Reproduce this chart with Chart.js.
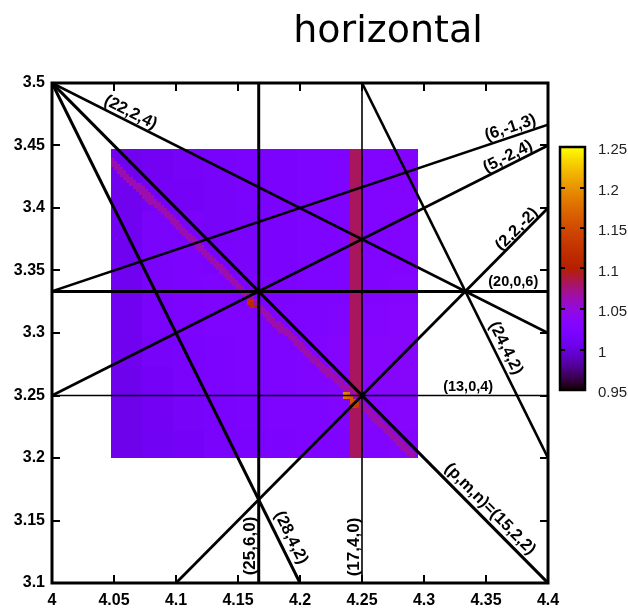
<!DOCTYPE html>
<html>
<head>
<meta charset="utf-8">
<script src="https://cdn.jsdelivr.net/npm/chart.js@4"></script>
<style>
  html, body { margin: 0; padding: 0; background: #fff; }
</style>
</head>
<body>
<canvas id="c" width="628" height="611"></canvas>
<script>
// axis ticks
const xTicks = [4, 4.05, 4.1, 4.15, 4.2, 4.25, 4.3, 4.35, 4.4];
const yTicks = [3.1, 3.15, 3.2, 3.25, 3.3, 3.35, 3.4, 3.45, 3.5];
const cbTicks = [0.95, 1, 1.05, 1.1, 1.15, 1.2, 1.25];

// resonance lines (start / end points) and their labels
const lineLabels = ['(25,6,0)', '(17,4,0)', '(20,0,6)', '(13,0,4)', '(p,m,n)=(15,2,2)', '(22,2,4)',
                    '(28,4,2)', '(6,-1,3)', '(5,-2,4)', '(2,2,-2)', '(24,4,2)'];
const lineX1 = [4.1667, 4.25, 4, 4, 4, 4, 4, 4, 4, 4.1, 4.25];
const lineY1 = [3.1, 3.1, 3.3333, 3.25, 3.5, 3.5, 3.5, 3.3333, 3.25, 3.1, 3.5];
const lineX2 = [4.1667, 4.25, 4.4, 4.4, 4.4, 4.4, 4.2, 4.4, 4.4, 4.4, 4.4];
const lineY2 = [3.5, 3.5, 3.3333, 3.25, 3.1, 3.3, 3.1, 3.4667, 3.45, 3.4, 3.2];

// heat map: coarse background (rows top -> bottom)
const heatBase = [
  [1.008, 1.011, 1.014, 1.016, 1.018, 1.020, 1.022, 1.024, 1.026, 1.028],
  [1.008, 1.013, 1.013, 1.015, 1.018, 1.020, 1.022, 1.024, 1.026, 1.028],
  [1.009, 1.017, 1.017, 1.015, 1.017, 1.020, 1.022, 1.024, 1.026, 1.028],
  [1.009, 1.017, 1.021, 1.019, 1.017, 1.020, 1.022, 1.024, 1.026, 1.028],
  [1.009, 1.017, 1.021, 1.023, 1.021, 1.021, 1.023, 1.025, 1.027, 1.029],
  [1.009, 1.017, 1.021, 1.023, 1.023, 1.023, 1.025, 1.027, 1.029, 1.031],
  [1.008, 1.015, 1.019, 1.021, 1.023, 1.025, 1.027, 1.029, 1.031, 1.033],
  [1.007, 1.013, 1.017, 1.021, 1.023, 1.025, 1.027, 1.029, 1.031, 1.033],
  [1.006, 1.011, 1.015, 1.019, 1.021, 1.023, 1.025, 1.027, 1.029, 1.031],
  [1.006, 1.010, 1.013, 1.017, 1.019, 1.021, 1.023, 1.025, 1.027, 1.029]
];
// diagonal ridge (polyline) and its value
const ridgeX = [4.048, 4.157, 4.25, 4.292];
const ridgeY = [3.438, 3.330, 3.243, 3.200];
const ridgeVal = 1.064;
// vertical stripe
const stripeX = [4.24, 4.25];
const stripeVal = 1.082;
// hot cells where ridges cross
const hotX = [4.1588, 4.1613, 4.1588, 4.1613, 4.1638, 4.1613,
              4.2363, 4.2388, 4.2363, 4.2388, 4.2413, 4.2413, 4.2438, 4.2413, 4.2438, 4.2463, 4.2438, 4.2463, 4.2413];
const hotY = [3.3263, 3.3263, 3.3238, 3.3238, 3.3213, 3.3213,
              3.2513, 3.2513, 3.2488, 3.2488, 3.2488, 3.2463, 3.2463, 3.2438, 3.2438, 3.2438, 3.2413, 3.2413, 3.2413];
const hotVal = [1.12, 1.12, 1.12, 1.11, 1.10, 1.11,
                1.19, 1.18, 1.18, 1.17, 1.16, 1.16, 1.15, 1.15, 1.15, 1.14, 1.14, 1.13, 1.14];

// heat grid geometry
const grid = { x0: 4.0475, y0: 3.2, step: 0.0025, nx: 99, ny: 99 };
const cbMin = 0.95, cbMax = 1.25;

// label placement: fraction along line, offset (px), font size
const labelT   = [0.074, 0.072, 0.93, 0.839, 0.8675, 0.15, 0.92, 0.93, 0.9265, 0.93, 0.72];
const labelOff = [8, 8, 9, 9, 11, 9, 12, 9, 8, 7, 11];
const labelSize = [17, 17, 14.5, 14.5, 16.5, 16.5, 16.5, 16.5, 16.5, 16.5, 16.5];
const lineWidths = [3, 1.6, 3, 1.6, 3, 2.6, 3, 2.6, 2.8, 2.8, 2.6];

// gnuplot default palette (rgbformulae 7,5,15)
function palette(v) {
  let t = (v - cbMin) / (cbMax - cbMin);
  t = Math.max(0, Math.min(1, t));
  const r = Math.sqrt(t);
  const g = t * t * t;
  const b = Math.max(0, Math.sin(2 * Math.PI * t));
  return `rgb(${Math.round(r * 255)},${Math.round(g * 255)},${Math.round(b * 255)})`;
}

function ridgeYAt(x) {
  for (let k = 0; k < ridgeX.length - 1; k++) {
    if (x >= ridgeX[k] && x <= ridgeX[k + 1]) {
      const f = (x - ridgeX[k]) / (ridgeX[k + 1] - ridgeX[k]);
      return ridgeY[k] + f * (ridgeY[k + 1] - ridgeY[k]);
    }
  }
  return null;
}

function cellValue(i, j) {
  const cx = grid.x0 + (i + 0.5) * grid.step;
  const cy = grid.y0 + (j + 0.5) * grid.step;
  const col = Math.min(9, Math.floor(i / grid.nx * 10));
  const row = Math.min(9, Math.floor((grid.ny - 1 - j) / grid.ny * 10));
  let v = heatBase[row][col];
  if (cx > stripeX[0] && cx < stripeX[1]) v = stripeVal;
  const ry = ridgeYAt(cx);
  if (ry !== null && Math.abs(cy - ry) <= 0.0038) v = ridgeVal;
  for (let k = 0; k < hotX.length; k++) {
    if (Math.abs(hotX[k] - cx) < grid.step / 2 && Math.abs(hotY[k] - cy) < grid.step / 2) v = hotVal[k];
  }
  return v;
}

const heatPlugin = {
  id: 'heat',
  beforeDatasetsDraw(chart) {
    const ctx = chart.ctx, xs = chart.scales.x, ys = chart.scales.y;
    ctx.save();
    for (let i = 0; i < grid.nx; i++) {
      const xa = Math.round(xs.getPixelForValue(grid.x0 + i * grid.step));
      const xb = Math.round(xs.getPixelForValue(grid.x0 + (i + 1) * grid.step));
      for (let j = 0; j < grid.ny; j++) {
        const ya = Math.round(ys.getPixelForValue(grid.y0 + (j + 1) * grid.step));
        const yb = Math.round(ys.getPixelForValue(grid.y0 + j * grid.step));
        ctx.fillStyle = palette(cellValue(i, j));
        ctx.fillRect(xa, ya, xb - xa, yb - ya);
      }
    }
    ctx.restore();
  }
};

const framePlugin = {
  id: 'frame',
  afterDatasetsDraw(chart) {
    const ctx = chart.ctx, a = chart.chartArea, xs = chart.scales.x, ys = chart.scales.y;
    ctx.save();
    ctx.strokeStyle = '#000';
    ctx.lineWidth = 2;
    ctx.beginPath();
    xTicks.slice(1, -1).forEach(v => {
      const p = Math.round(xs.getPixelForValue(v));
      ctx.moveTo(p, a.bottom); ctx.lineTo(p, a.bottom - 8);
      ctx.moveTo(p, a.top); ctx.lineTo(p, a.top + 8);
    });
    yTicks.slice(1, -1).forEach(v => {
      const p = Math.round(ys.getPixelForValue(v));
      ctx.moveTo(a.left, p); ctx.lineTo(a.left + 8, p);
      ctx.moveTo(a.right, p); ctx.lineTo(a.right - 8, p);
    });
    ctx.stroke();
    ctx.lineWidth = 3;
    ctx.strokeRect(a.left, a.top, a.right - a.left, a.bottom - a.top);

    // line labels
    ctx.fillStyle = '#000';
    ctx.textAlign = 'center';
    ctx.textBaseline = 'middle';
    lineLabels.forEach((txt, i) => {
      const x1 = xs.getPixelForValue(lineX1[i]), y1 = ys.getPixelForValue(lineY1[i]);
      const x2 = xs.getPixelForValue(lineX2[i]), y2 = ys.getPixelForValue(lineY2[i]);
      let ang = Math.atan2(y2 - y1, x2 - x1);
      if (ang > Math.PI / 2 + 0.01) ang -= Math.PI;
      if (ang < -Math.PI / 2 - 0.01) ang += Math.PI;
      const px = x1 + labelT[i] * (x2 - x1) + Math.sin(ang) * labelOff[i];
      const py = y1 + labelT[i] * (y2 - y1) - Math.cos(ang) * labelOff[i];
      ctx.save();
      ctx.translate(px, py);
      ctx.rotate(ang);
      ctx.font = `bold ${labelSize[i]}px "Liberation Sans", Arial, sans-serif`;
      ctx.fillText(txt, 0, 0);
      ctx.restore();
    });

    // colour bar
    const cb = { left: 560, right: 585, top: 147, bottom: 390 };
    const cbPix = v => cb.bottom - (v - cbMin) / (cbMax - cbMin) * (cb.bottom - cb.top);
    for (let y = cb.top; y < cb.bottom; y++) {
      const v = cbMin + (cb.bottom - y - 0.5) / (cb.bottom - cb.top) * (cbMax - cbMin);
      ctx.fillStyle = palette(v);
      ctx.fillRect(cb.left, y, cb.right - cb.left, 1);
    }
    ctx.lineWidth = 2;
    ctx.beginPath();
    cbTicks.slice(1, -1).forEach(v => {
      const p = Math.round(cbPix(v));
      ctx.moveTo(cb.left, p); ctx.lineTo(cb.left + 5, p);
      ctx.moveTo(cb.right, p); ctx.lineTo(cb.right - 5, p);
    });
    ctx.stroke();
    ctx.lineWidth = 2.5;
    ctx.strokeRect(cb.left, cb.top, cb.right - cb.left, cb.bottom - cb.top);
    ctx.fillStyle = '#222';
    ctx.textAlign = 'left';
    ctx.font = '15px "Liberation Sans", Arial, sans-serif';
    cbTicks.forEach(v => {
      ctx.fillText(String(v), 598, cbPix(v) + 3);
    });

    // title
    ctx.fillStyle = '#000';
    ctx.textAlign = 'center';
    ctx.textBaseline = 'alphabetic';
    ctx.font = '38px "DejaVu Sans", sans-serif';
    ctx.fillText('horizontal', 388, 42);
    ctx.restore();
  }
};

const datasets = lineLabels.map((name, i) => ({
  label: name,
  data: [{ x: lineX1[i], y: lineY1[i] }, { x: lineX2[i], y: lineY2[i] }],
  showLine: true,
  borderColor: '#000',
  borderWidth: lineWidths[i],
  pointRadius: 0,
  fill: false
}));

const tickFont = { family: '"Liberation Sans", Arial, sans-serif', weight: 'bold', size: 16 };

new Chart(document.getElementById('c'), {
  type: 'scatter',
  data: { datasets },
  options: {
    responsive: false,
    animation: false,
    devicePixelRatio: 1,
    layout: { padding: { top: 83, right: 80, left: 0, bottom: 0 } },
    plugins: { legend: { display: false }, tooltip: { enabled: false } },
    scales: {
      x: {
        type: 'linear', min: 4, max: 4.4,
        afterBuildTicks: s => { s.ticks = xTicks.map(v => ({ value: v })); },
        afterFit: s => { s.height = 28; },
        grid: { display: false, drawTicks: false },
        border: { display: false },
        ticks: { font: tickFont, color: '#000', padding: 8, maxRotation: 0, autoSkip: false,
                 callback: v => String(+v.toFixed(2)) }
      },
      y: {
        type: 'linear', min: 3.1, max: 3.5,
        afterBuildTicks: s => { s.ticks = yTicks.map(v => ({ value: v })); },
        afterFit: s => { s.width = 52; },
        grid: { display: false, drawTicks: false },
        border: { display: false },
        ticks: { font: tickFont, color: '#000', padding: 7, autoSkip: false,
                 callback: v => String(+v.toFixed(2)) }
      }
    }
  },
  plugins: [heatPlugin, framePlugin]
});
</script>
</body>
</html>
